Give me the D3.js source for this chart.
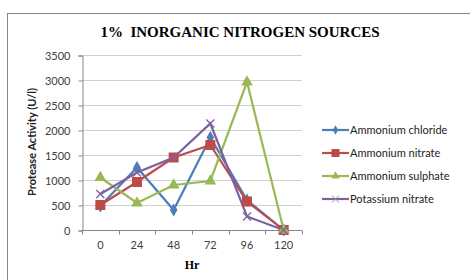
<!DOCTYPE html>
<html>
<head>
<meta charset="utf-8">
<script src="https://cdn.jsdelivr.net/npm/d3@7"></script>
<style>
  body { margin: 0; background: #fff; }
  svg { display: block; }
</style>
</head>
<body>
<div id="main"></div>
<script>
/// chart data ///
var hours = ['0', '24', '48', '72', '96', '120'];
var seriesNames = ['Ammonium chloride', 'Ammonium nitrate', 'Ammonium sulphate', 'Potassium nitrate'];
var ammoniumChloride = [480, 1250, 400, 1850, 600, 0];
var ammoniumNitrate = [500, 960, 1450, 1700, 570, 0];
var ammoniumSulphate = [1050, 540, 900, 980, 2960, 0];
var potassiumNitrate = [720, 1150, 1450, 2130, 270, 0];
var yTicks = [0, 500, 1000, 1500, 2000, 2500, 3000, 3500];

var colors = ['#4a7ebb', '#be4b48', '#98b954', '#7d60a0'];
var markers = ['diamond', 'square', 'triangle', 'cross'];
var allSeries = [ammoniumChloride, ammoniumNitrate, ammoniumSulphate, potassiumNitrate];

const w = 470;
const h = 280;

const svg = d3.select('#main')
            .append('svg')
            .attr('width', w)
            .attr('height', h);

// chart border (only top and left show in the crop)
svg.append('rect')
    .attr('x', 7.5)
    .attr('y', 13.5)
    .attr('width', 480)
    .attr('height', 300)
    .attr('fill', 'none')
    .attr('stroke', '#868686')
    .attr('stroke-width', 1);

// scales
const x = d3.scaleBand()
            .domain(hours)
            .range([82, 302]);

const y = d3.scaleLinear()
            .domain([0, 3500])
            .range([230, 55]);

// gridlines
svg.selectAll('.grid')
    .data(yTicks)
    .enter()
    .append('line')
    .attr('class', 'grid')
    .attr('x1', 82)
    .attr('x2', 302)
    .attr('y1', d => Math.round(y(d)) + 0.5)
    .attr('y2', d => Math.round(y(d)) + 0.5)
    .attr('stroke', d => d === 0 ? '#868686' : '#d0d0d0')
    .attr('stroke-width', 1);

// y axis
const yAxis = svg.append('g')
    .attr('transform', 'translate(82.5,0.5)')
    .call(d3.axisLeft(y).tickValues(yTicks).tickFormat(d3.format('d')).tickSize(4).tickPadding(8));
yAxis.select('.domain').attr('stroke', '#868686');
yAxis.selectAll('line').attr('stroke', '#868686');
yAxis.selectAll('text')
    .style('font-family', 'Lato, "Open Sans", sans-serif')
    .style('font-size', '11px')
    .attr('fill', '#404040');

// x axis with ticks between categories
const xAxisG = svg.append('g')
    .attr('transform', 'translate(0,230.5)');
xAxisG.selectAll('.xtick')
    .data(hours.concat(['end']))
    .enter()
    .append('line')
    .attr('x1', (d, i) => Math.round(82 + i * x.step()) + 0.5)
    .attr('x2', (d, i) => Math.round(82 + i * x.step()) + 0.5)
    .attr('y1', 0)
    .attr('y2', 4)
    .attr('stroke', '#868686');
xAxisG.selectAll('.xlabel')
    .data(hours)
    .enter()
    .append('text')
    .attr('x', d => x(d) + x.bandwidth() / 2)
    .attr('y', 18)
    .attr('text-anchor', 'middle')
    .style('font-family', 'Lato, "Open Sans", sans-serif')
    .style('font-size', '11px')
    .attr('fill', '#404040')
    .text(d => d);

// series lines and markers
const line = d3.line()
    .x((d, i) => x(hours[i]) + x.bandwidth() / 2)
    .y(d => y(d));

function drawMarker(g, type, color, cx, cy) {
    if (type === 'diamond') {
        g.append('path')
            .attr('d', d3.symbol().type(d3.symbolDiamond).size(50)())
            .attr('transform', `translate(${cx},${cy})`)
            .attr('fill', color);
    } else if (type === 'square') {
        g.append('rect')
            .attr('x', cx - 5).attr('y', cy - 5)
            .attr('width', 10).attr('height', 10)
            .attr('fill', color);
    } else if (type === 'triangle') {
        g.append('path')
            .attr('d', d3.symbol().type(d3.symbolTriangle).size(60)())
            .attr('transform', `translate(${cx},${cy})`)
            .attr('fill', color);
    } else {
        g.append('path')
            .attr('d', `M${cx - 4},${cy - 4}L${cx + 4},${cy + 4}M${cx - 4},${cy + 4}L${cx + 4},${cy - 4}`)
            .attr('stroke', color)
            .attr('stroke-width', 1.3);
    }
}

allSeries.forEach(function (vals, s) {
    svg.append('path')
        .datum(vals)
        .attr('d', line)
        .attr('fill', 'none')
        .attr('stroke', colors[s])
        .attr('stroke-width', 2.2);
});
allSeries.forEach(function (vals, s) {
    const g = svg.append('g');
    vals.forEach(function (v, i) {
        drawMarker(g, markers[s], colors[s], x(hours[i]) + x.bandwidth() / 2, y(v));
    });
});

// title
svg.append('text')
    .attr('x', 240)
    .attr('y', 37)
    .attr('text-anchor', 'middle')
    .style('font-family', '"Liberation Serif", "Times New Roman", serif')
    .style('font-weight', 'bold')
    .style('font-size', '15px')
    .attr('xml:space', 'preserve')
    .text('1%  INORGANIC NITROGEN SOURCES');

// axis titles
svg.append('text')
    .attr('transform', 'translate(36,142) rotate(-90)')
    .attr('text-anchor', 'middle')
    .style('font-family', 'Lato, "Open Sans", sans-serif')
    .style('font-weight', 'bold')
    .style('font-size', '11px')
    .attr('fill', '#222')
    .text('Protease Activity (U/l)');

svg.append('text')
    .attr('x', 192)
    .attr('y', 269)
    .attr('text-anchor', 'middle')
    .style('font-family', '"Liberation Serif", "Times New Roman", serif')
    .style('font-weight', 'bold')
    .style('font-size', '12px')
    .text('Hr');

// legend
const legend = svg.selectAll('.legendGroup')
    .data(seriesNames)
    .enter()
    .append('g')
    .attr('class', 'legendGroup')
    .attr('transform', (d, i) => `translate(322,${130 + i * 23})`);

legend.append('line')
    .attr('x1', 0).attr('x2', 27)
    .attr('y1', 0).attr('y2', 0)
    .attr('stroke', (d, i) => colors[i])
    .attr('stroke-width', 2.2);

legend.each(function (d, i) {
    const g = d3.select(this);
    if (markers[i] === 'square') {
        g.append('rect').attr('x', 9.5).attr('y', -4).attr('width', 8).attr('height', 8).attr('fill', colors[i]);
    } else if (markers[i] === 'diamond') {
        g.append('path').attr('d', d3.symbol().type(d3.symbolDiamond).size(25)()).attr('transform', 'translate(13.5,0)').attr('fill', colors[i]);
    } else if (markers[i] === 'triangle') {
        g.append('path').attr('d', d3.symbol().type(d3.symbolTriangle).size(30)()).attr('transform', 'translate(13.5,0)').attr('fill', colors[i]);
    } else {
        g.append('path').attr('d', 'M10,-3.5L17,3.5M10,3.5L17,-3.5').attr('stroke', '#a58fc5').attr('stroke-width', 1);
    }
});

legend.append('text')
    .attr('x', 28)
    .attr('y', 4)
    .style('font-family', 'Lato, "Open Sans", sans-serif')
    .style('font-size', '11px')
    .attr('fill', '#222')
    .text(d => d);
</script>
</body>
</html>
